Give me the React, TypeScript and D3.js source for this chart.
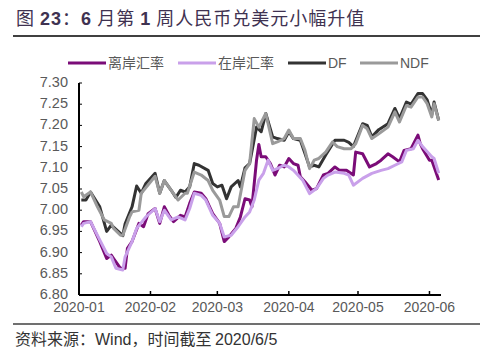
import React from "react";
import * as d3 from "d3";

const offDates = ["2020-01-02","2020-01-03","2020-01-06","2020-01-10","2020-01-13","2020-01-15","2020-01-16","2020-01-19","2020-01-21","2020-01-22","2020-01-24","2020-01-27","2020-01-29","2020-01-31","2020-02-03","2020-02-05","2020-02-07","2020-02-09","2020-02-11","2020-02-14","2020-02-16","2020-02-18","2020-02-20","2020-02-23","2020-02-25","2020-02-28","2020-03-02","2020-03-04","2020-03-06","2020-03-09","2020-03-11","2020-03-13","2020-03-15","2020-03-16","2020-03-18","2020-03-19","2020-03-20","2020-03-22","2020-03-24","2020-03-26","2020-03-28","2020-03-30","2020-04-01","2020-04-03","2020-04-05","2020-04-06","2020-04-08","2020-04-11","2020-04-13","2020-04-16","2020-04-18","2020-04-21","2020-04-23","2020-04-26","2020-04-29","2020-04-30","2020-05-03","2020-05-06","2020-05-09","2020-05-11","2020-05-14","2020-05-16","2020-05-19","2020-05-21","2020-05-24","2020-05-27","2020-05-28","2020-05-29","2020-06-01","2020-06-02","2020-06-05"];
const offValues = [6.965,6.973,6.973,6.926,6.886,6.894,6.886,6.863,6.863,6.91,6.926,6.969,6.961,6.992,7.004,6.969,7.008,6.988,6.973,6.988,6.984,7.016,7.043,7.04,7.027,6.992,6.969,6.926,6.937,6.957,6.984,7.027,7.024,7.008,7.118,7.155,7.126,7.126,7.11,7.083,7.106,7.102,7.122,7.11,7.106,7.079,7.067,7.047,7.051,7.083,7.087,7.102,7.094,7.094,7.083,7.137,7.133,7.102,7.11,7.118,7.133,7.126,7.114,7.141,7.145,7.177,7.157,7.145,7.118,7.118,7.071];

const onDates = ["2020-01-02","2020-01-03","2020-01-06","2020-01-10","2020-01-13","2020-01-15","2020-01-17","2020-01-20","2020-01-21","2020-01-24","2020-01-26","2020-01-30","2020-02-03","2020-02-05","2020-02-07","2020-02-10","2020-02-13","2020-02-16","2020-02-18","2020-02-20","2020-02-23","2020-02-25","2020-02-28","2020-03-02","2020-03-04","2020-03-07","2020-03-10","2020-03-13","2020-03-15","2020-03-17","2020-03-19","2020-03-21","2020-03-23","2020-03-25","2020-03-27","2020-03-30","2020-04-01","2020-04-03","2020-04-07","2020-04-10","2020-04-13","2020-04-16","2020-04-18","2020-04-21","2020-04-25","2020-04-27","2020-04-29","2020-05-03","2020-05-07","2020-05-11","2020-05-14","2020-05-17","2020-05-20","2020-05-22","2020-05-25","2020-05-27","2020-05-29","2020-06-02","2020-06-03","2020-06-05"];
const onValues = [6.961,6.969,6.973,6.93,6.898,6.89,6.863,6.859,6.89,6.926,6.957,6.984,7.004,6.973,7.0,6.977,6.984,6.977,7.004,7.04,7.035,7.024,6.988,6.969,6.937,6.941,6.961,6.984,6.996,7.024,7.071,7.087,7.118,7.094,7.098,7.106,7.102,7.094,7.071,7.039,7.051,7.075,7.083,7.09,7.087,7.083,7.059,7.075,7.087,7.094,7.098,7.106,7.114,7.141,7.145,7.165,7.15,7.126,7.122,7.087];

const dfDates = ["2020-01-02","2020-01-04","2020-01-06","2020-01-10","2020-01-13","2020-01-15","2020-01-18","2020-01-20","2020-01-21","2020-01-24","2020-01-26","2020-01-28","2020-01-30","2020-02-03","2020-02-05","2020-02-07","2020-02-10","2020-02-12","2020-02-14","2020-02-16","2020-02-18","2020-02-20","2020-02-22","2020-02-26","2020-02-28","2020-03-01","2020-03-03","2020-03-05","2020-03-07","2020-03-10","2020-03-11","2020-03-13","2020-03-15","2020-03-18","2020-03-20","2020-03-22","2020-03-25","2020-03-27","2020-03-30","2020-04-01","2020-04-03","2020-04-06","2020-04-08","2020-04-10","2020-04-12","2020-04-14","2020-04-17","2020-04-21","2020-04-25","2020-04-27","2020-04-29","2020-05-03","2020-05-05","2020-05-07","2020-05-10","2020-05-14","2020-05-17","2020-05-19","2020-05-22","2020-05-24","2020-05-27","2020-05-29","2020-05-31","2020-06-02","2020-06-03","2020-06-05"];
const dfValues = [7.024,7.024,7.043,7.008,6.95,6.965,6.95,6.94,6.968,7.008,7.057,7.04,7.063,7.087,7.04,7.07,7.047,7.03,7.047,7.043,7.055,7.11,7.106,7.094,7.063,7.055,7.059,7.027,7.055,7.07,7.055,7.1,7.11,7.196,7.185,7.228,7.173,7.169,7.165,7.185,7.169,7.165,7.134,7.102,7.106,7.102,7.13,7.165,7.165,7.16,7.15,7.204,7.2,7.173,7.19,7.204,7.24,7.216,7.255,7.25,7.275,7.275,7.26,7.225,7.255,7.212];

const ndfDates = ["2020-01-02","2020-01-03","2020-01-06","2020-01-09","2020-01-12","2020-01-15","2020-01-16","2020-01-19","2020-01-20","2020-01-23","2020-01-24","2020-01-27","2020-01-28","2020-01-31","2020-02-03","2020-02-05","2020-02-07","2020-02-10","2020-02-13","2020-02-16","2020-02-17","2020-02-20","2020-02-23","2020-02-26","2020-02-28","2020-03-02","2020-03-04","2020-03-06","2020-03-08","2020-03-10","2020-03-13","2020-03-15","2020-03-17","2020-03-19","2020-03-22","2020-03-25","2020-03-27","2020-03-30","2020-04-01","2020-04-03","2020-04-06","2020-04-08","2020-04-10","2020-04-12","2020-04-14","2020-04-17","2020-04-20","2020-04-22","2020-04-25","2020-04-28","2020-04-30","2020-05-03","2020-05-05","2020-05-07","2020-05-10","2020-05-14","2020-05-17","2020-05-19","2020-05-22","2020-05-24","2020-05-27","2020-05-29","2020-05-31","2020-06-02","2020-06-03","2020-06-05"];
const ndfValues = [7.043,7.032,7.043,7.008,6.977,6.969,6.957,6.941,6.941,6.985,6.996,7.0,7.04,7.06,7.08,7.04,7.07,7.047,7.024,7.04,7.04,7.09,7.083,7.07,7.047,7.024,6.985,6.985,7.008,7.008,7.094,7.11,7.216,7.196,7.228,7.157,7.161,7.169,7.189,7.169,7.169,7.141,7.098,7.118,7.122,7.137,7.161,7.15,7.145,7.145,7.157,7.2,7.192,7.169,7.18,7.196,7.232,7.208,7.247,7.243,7.267,7.267,7.251,7.22,7.251,7.212];

const seriesNames = ["离岸汇率", "在岸汇率", "DF", "NDF"];
const seriesColors = ["#7b0c78", "#c9a0ea", "#333333", "#9a9a9a"];
const yTicks = [6.8, 6.85, 6.9, 6.95, 7.0, 7.05, 7.1, 7.15, 7.2, 7.25, 7.3];
const xTickLabels = ["2020-01", "2020-02", "2020-03", "2020-04", "2020-05", "2020-06"];

const parse = d3.timeParse("%Y-%m-%d");
const parseM = d3.timeParse("%Y-%m");

export default function App() {
  const W = 500, H = 364;
  const left = 79, right = 441, top = 83, bottom = 295;
  const x = d3.scaleTime().domain([parse("2020-01-01")!, parse("2020-06-06")!]).range([left, right]);
  const y = d3.scaleLinear().domain([6.8, 7.3]).range([bottom, top]);
  const line = d3.line<[Date, number]>().x(d => x(d[0])).y(d => y(d[1]));
  const series = [
    [offDates, offValues],
    [onDates, onValues],
    [dfDates, dfValues],
    [ndfDates, ndfValues],
  ].map(([ds, vs]) => (ds as string[]).map((s, i) => [parse(s)!, (vs as number[])[i]] as [Date, number]));

  const legendX = [68, 178, 288, 360];
  const labelFont = "Liberation Sans, Arial, sans-serif";
  const cjk = "'Noto Sans CJK SC', sans-serif";

  return (
    <svg width={W} height={H} style={{ position: "absolute", left: 0, top: 0 }}>
      <rect width={W} height={H} fill="#fff" />
      <text x={16} y={25} fontSize={18} fill="#3f3251" fontFamily={cjk} letterSpacing={1}>
        <tspan>图 </tspan>
        <tspan fontWeight="bold" fontFamily={labelFont}>23</tspan>
        <tspan>：</tspan>
        <tspan fontWeight="bold" fontFamily={labelFont}>6</tspan>
        <tspan> 月第 </tspan>
        <tspan fontWeight="bold" fontFamily={labelFont}>1</tspan>
        <tspan> 周人民币兑美元小幅升值</tspan>
      </text>
      <line x1={13} x2={480} y1={36} y2={36} stroke="#404040" strokeWidth={2} />

      {seriesNames.map((n, i) => (
        <g key={n}>
          <line x1={legendX[i]} x2={legendX[i] + 38} y1={63} y2={63} stroke={seriesColors[i]} strokeWidth={3} />
          <text x={legendX[i] + 40} y={68} fontSize={14} fill="#595959" fontFamily={i < 2 ? cjk : labelFont}>{n}</text>
        </g>
      ))}

      {series.map((s, i) => (
        <path key={i} d={line(s)!} fill="none" stroke={seriesColors[i]} strokeWidth={3} strokeLinejoin="round" />
      ))}

      <line x1={left} x2={left} y1={top} y2={bottom} stroke="#000" strokeWidth={2} />
      <line x1={left} x2={right} y1={bottom} y2={bottom} stroke="#000" strokeWidth={2} />
      {yTicks.map(t => (
        <g key={t}>
          <line x1={left} x2={left + 3} y1={y(t)} y2={y(t)} stroke="#000" strokeWidth={1} />
          <text x={68} y={y(t) - 1} dy="0.35em" textAnchor="end" fontSize={14.5} fill="#595959" fontFamily={labelFont}>{t.toFixed(2)}</text>
        </g>
      ))}
      {xTickLabels.map(l => {
        const px = x(parseM(l)!);
        return (
          <g key={l}>
            <line x1={px} x2={px} y1={bottom} y2={bottom - 4} stroke="#000" strokeWidth={1.5} />
            <text x={px} y={312} textAnchor="middle" fontSize={14} fill="#595959" fontFamily={labelFont}>{l}</text>
          </g>
        );
      })}

      <line x1={13} x2={480} y1={324} y2={324} stroke="#404040" strokeWidth={1.5} />
      <text x={15} y={345} fontSize={16} fill="#333" fontFamily={cjk}>
        <tspan>资料来源：</tspan>
        <tspan fontFamily={labelFont}>Wind</tspan>
        <tspan>，时间截至 </tspan>
        <tspan fontFamily={labelFont}>2020/6/5</tspan>
      </text>
    </svg>
  );
}
